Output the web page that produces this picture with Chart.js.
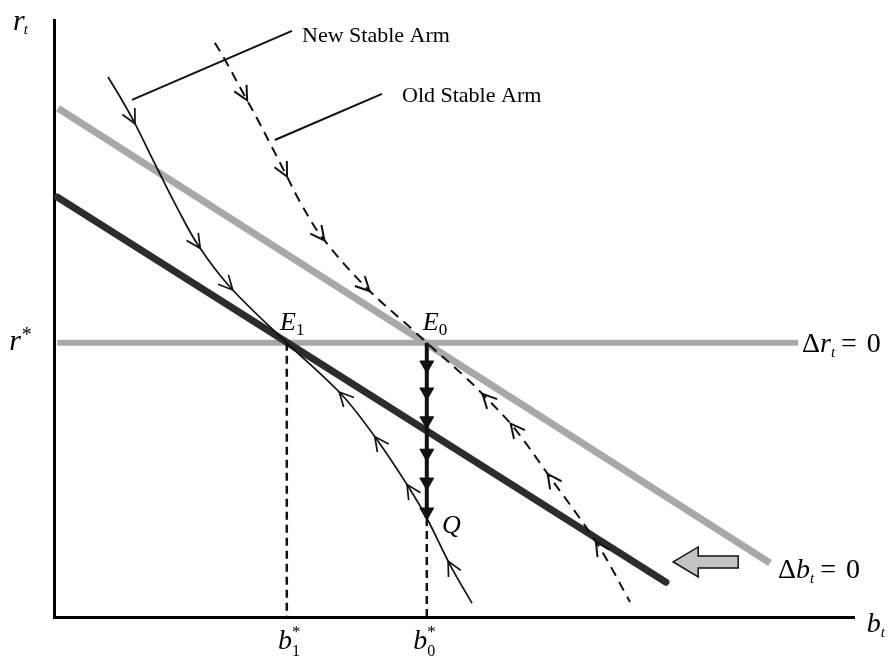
<!DOCTYPE html>
<html>
<head>
<meta charset="utf-8">
<script src="https://cdn.jsdelivr.net/npm/chart.js@4.4.1/dist/chart.umd.min.js"></script>
<style>
  html, body { margin: 0; padding: 0; background: #fff; }
  #wrap { width: 891px; height: 657px; }
</style>
</head>
<body>
<div id="wrap"><canvas id="myChart" width="891" height="657"></canvas></div>
<script>
const ctx = document.getElementById('myChart');

// loci (b on x, r on y)
const dbOldX = [0.5, 89.5];
const dbOldY = [84.8, 9.0];
const dbNewX = [0.4, 76.5];
const dbNewY = [70.0, 5.8];
const drX = [0.4, 93];
const rStar = 45.7;
const b1 = 29.1;
const b0 = 46.6;
const qY = 16.5;

// stable arms
const newArmX = [6.75, 8.25, 9.9, 13, 15.4, 18, 22, 29.1, 36, 40.4, 44.4, 46.6, 49.5, 52.25];
const newArmY = [90, 86.7, 82.8, 74.5, 68.2, 62, 55, 45.7, 37, 29.5, 21.5, 16.5, 8.7, 2.3];
const newArmArrows = [2, 5, 6, 8, 9, 10, 12];
const newArmEq = 7;

const oldArmX = [20.1, 21.4, 23.9, 25.5, 27.25, 28.9, 30.75, 33.5, 39.1, 44.9, 46.6, 51.4, 53.9, 57.4, 62, 68, 72];
const oldArmY = [95.7, 92.8, 86.7, 82.8, 78.3, 74, 69.2, 63.3, 54.8, 47.8, 45.7, 40, 36.7, 31.7, 23.3, 12, 2.5];
const oldArmArrows = [2, 5, 7, 8, 12, 13, 14, 15];
const oldArmEq = 10;

// jump from E0 down to Q
const dropY = [42, 37.5, 32.7, 27.3, 22.5, 17.5];

// callout lines
const pointerNewX = [9.75, 29.75];
const pointerNewY = [86.2, 97.7];
const pointerOldX = [27.6, 41.0];
const pointerOldY = [79.5, 87.2];

const pts = (xs, ys) => xs.map((x, i) => ({x: x, y: ys[i]}));

const SERIF = '"Liberation Serif", "Times New Roman", serif';

function drawParts(c, x, y, parts) {
    let cx = x;
    parts.forEach(p => {
        c.font = (p.it ? 'italic ' : '') + p.size + 'px ' + SERIF;
        c.fillText(p.t, cx + (p.dx || 0), y + (p.dy || 0));
        if (!p.stay) cx += c.measureText(p.t).width + (p.dx || 0) + (p.gap || 0);
    });
}

const phaseMarks = {
    id: 'phaseMarks',
    afterDatasetsDraw(chart) {
        const c = chart.ctx;
        const xs = chart.scales.x, ys = chart.scales.y;
        const X = v => xs.getPixelForValue(v);
        const Y = v => ys.getPixelForValue(v);

        // chevrons along the arms
        const chevrons = (dsIndex, arrows, eq, lw) => {
            const p = chart.getDatasetMeta(dsIndex).data;
            c.save();
            c.strokeStyle = '#111';
            c.lineWidth = lw;
            arrows.forEach(i => {
                const a = p[Math.max(i - 1, 0)], b = p[Math.min(i + 1, p.length - 1)];
                let dx = b.x - a.x, dy = b.y - a.y;
                if (i > eq) { dx = -dx; dy = -dy; }
                const len = Math.hypot(dx, dy);
                dx /= len; dy /= len;
                const tx = p[i].x + dx * 4, ty = p[i].y + dy * 4;
                const L = 14, W = 7;
                c.beginPath();
                c.moveTo(tx - dx * L - dy * W, ty - dy * L + dx * W);
                c.lineTo(tx, ty);
                c.lineTo(tx - dx * L + dy * W, ty - dy * L - dx * W);
                c.stroke();
            });
            c.restore();
        };
        chevrons(5, newArmArrows, newArmEq, 1.7);
        chevrons(6, oldArmArrows, oldArmEq, 2);

        // shift arrow (hollow, pointing left)
        const ax = X(77.4), ay = Y(9.17);
        c.save();
        c.beginPath();
        c.moveTo(ax, ay);
        c.lineTo(ax + 25, ay - 15);
        c.lineTo(ax + 25, ay - 6);
        c.lineTo(ax + 65, ay - 6);
        c.lineTo(ax + 65, ay + 6);
        c.lineTo(ax + 25, ay + 6);
        c.lineTo(ax + 25, ay + 15);
        c.closePath();
        c.fillStyle = '#c4c4c4';
        c.fill();
        c.lineWidth = 1.5;
        c.strokeStyle = '#111';
        c.stroke();
        c.restore();

        // labels
        c.save();
        c.fillStyle = '#000';
        c.textBaseline = 'alphabetic';
        c.textAlign = 'left';
        drawParts(c, X(-5.125), Y(97.8), [{t: 'r', it: true, size: 30}, {t: 't', it: true, size: 15, dy: 4, dx: -1}]);
        drawParts(c, X(-5.6), Y(44.5), [{t: 'r', it: true, size: 30, gap: 1}, {t: '*', size: 20, dy: -9}]);
        drawParts(c, X(28.25), Y(47.8), [{t: 'E', it: true, size: 26}, {t: '1', size: 17, dy: 5}]);
        drawParts(c, X(46.1), Y(47.8), [{t: 'E', it: true, size: 26}, {t: '0', size: 17, dy: 5}]);
        drawParts(c, X(48.5), Y(14), [{t: 'Q', it: true, size: 26}]);
        drawParts(c, X(93.5), Y(44.2), [{t: '\u0394', size: 28}, {t: 'r', it: true, size: 28}, {t: 't', it: true, size: 15, dy: 5, gap: 6}, {t: '=', size: 28, gap: 10}, {t: '0', size: 28}]);
        drawParts(c, X(90.5), Y(6.5), [{t: '\u0394', size: 28}, {t: 'b', it: true, size: 28}, {t: 't', it: true, size: 15, dy: 5, gap: 6}, {t: '=', size: 28, gap: 10}, {t: '0', size: 28}]);
        drawParts(c, X(101.6), Y(-2.5), [{t: 'b', it: true, size: 28}, {t: 't', it: true, size: 15, dy: 5}]);
        drawParts(c, X(28), Y(-5.3), [{t: 'b', it: true, size: 28}, {t: '*', size: 17, dy: -12, stay: true}, {t: '1', size: 16, dy: 7}]);
        drawParts(c, X(44.9), Y(-5.3), [{t: 'b', it: true, size: 28}, {t: '*', size: 17, dy: -12, stay: true}, {t: '0', size: 16, dy: 7}]);
        drawParts(c, X(31), Y(95.8), [{t: 'New Stable Arm', size: 22}]);
        drawParts(c, X(43.5), Y(85.8), [{t: 'Old Stable Arm', size: 22}]);
        c.restore();
    }
};

const line = (data, color, width, order, extra) => Object.assign({
    data: data,
    showLine: true,
    borderColor: color,
    backgroundColor: color,
    borderWidth: width,
    pointRadius: 0,
    pointHoverRadius: 0,
    tension: 0,
    order: order
}, extra || {});

new Chart(ctx, {
    type: 'scatter',
    data: {
        datasets: [
            line(pts(dbOldX, dbOldY), '#a8a8a8', 7, 9),
            line(pts(drX, [rStar, rStar]), '#a8a8a8', 6, 10),
            line(pts(dbNewX, dbNewY), '#2c2c2c', 7, 8, {borderCapStyle: 'round'}),
            line(pts([b1, b1], [rStar, 0]), '#111', 2.5, 7, {borderDash: [8, 5]}),
            line(pts([b0, b0], [qY, 0]), '#111', 2.5, 7, {borderDash: [8, 5]}),
            line(pts(newArmX, newArmY), '#111', 1.7, 5, {tension: 0.35}),
            line(pts(oldArmX, oldArmY), '#111', 2, 5, {tension: 0.35, borderDash: [10, 7]}),
            line(pts([b0, b0], [rStar, qY]), '#111', 4, 4),
            {
                data: pts(dropY.map(() => b0), dropY),
                showLine: false,
                pointStyle: 'triangle',
                rotation: 180,
                pointRadius: 8,
                pointHoverRadius: 8,
                backgroundColor: '#111',
                borderColor: '#111',
                borderWidth: 1,
                order: 3
            },
            line(pts(pointerNewX, pointerNewY), '#111', 2, 6),
            line(pts(pointerOldX, pointerOldY), '#111', 2, 6)
        ]
    },
    plugins: [phaseMarks],
    options: {
        responsive: false,
        animation: false,
        events: [],
        layout: {padding: {left: 54, right: 37, top: 20, bottom: 40}},
        plugins: {legend: {display: false}, tooltip: {enabled: false}},
        scales: {
            x: {
                type: 'linear', min: 0, max: 100,
                grid: {display: false, drawTicks: false},
                ticks: {display: false},
                border: {display: true, color: '#000', width: 3}
            },
            y: {
                type: 'linear', min: 0, max: 99.5,
                grid: {display: false, drawTicks: false},
                ticks: {display: false},
                border: {display: true, color: '#000', width: 3}
            }
        }
    }
});
</script>
</body>
</html>
